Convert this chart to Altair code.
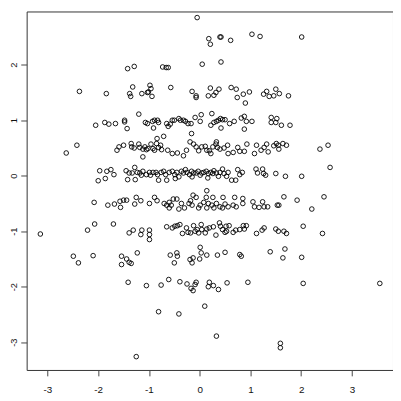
import altair as alt
import pandas as pd

# values, grouped by horizontal band
top_x = [-0.05, 0.18, 0.21, 0.40, 0.42, 0.61, 1.03, 1.19, -0.73, -0.66, -0.62, 0.05, 0.42, 2.01, -1.42, -1.29]
top_y = [2.85, 2.47, 2.37, 2.50, 2.50, 2.44, 2.55, 2.51, 1.96, 1.95, 1.95, 2.01, 2.05, 2.50, 1.93, 1.97]

b15_x = [-2.37, -1.84, -1.38, -1.36, -1.32, -0.98, -0.96, -1.03, -1.01, -1.14, -0.94, -0.57, -0.15, -0.07,
         -0.07, 0.17, 0.21, 0.28, 0.32, 0.38, 0.62, 0.72, 0.74, 0.86, 0.98, 1.26, 1.32, 1.37, 1.46, 1.50,
         1.57, 1.75, 0.90]
b15_y = [1.52, 1.48, 1.48, 1.43, 1.60, 1.63, 1.57, 1.50, 1.51, 1.48, 1.43, 1.59, 1.52, 1.44,
         1.41, 1.44, 1.58, 1.45, 1.50, 1.56, 1.59, 1.56, 1.41, 1.47, 1.51, 1.47, 1.52, 1.43, 1.44, 1.56,
         1.48, 1.44, 1.31]

b10_x = [1.41, 1.52, 1.41, 1.50, 1.61, 1.78, -2.05, -1.87, -1.79, -1.66, -1.48, -1.48, -1.43, -1.20,
         -1.07, -1.03, -0.93, -0.89, -0.83, -0.81, -0.91, -0.65, -0.62, -0.58, -0.54, -0.50, -0.41, -0.38,
         -0.32, -0.28, -0.23, -0.17, -0.09, 0.03, 0.01, 0.24, 0.22, 0.28, 0.33, 0.37, 0.41, 0.45, 0.42,
         0.50, 0.59, 0.68, 0.82, 0.88, 0.92, 0.88, 1.03]
b10_y = [1.05, 1.03, 0.96, 0.96, 0.91, 0.91, 0.91, 0.96, 0.93, 0.94, 1.00, 0.97, 0.85, 1.11,
         0.96, 0.94, 0.98, 1.00, 1.00, 0.96, 0.86, 0.94, 0.89, 0.93, 1.00, 1.00, 1.03, 1.00,
         1.00, 0.98, 0.94, 0.94, 1.05, 1.10, 0.98, 1.12, 0.91, 0.96, 0.98, 1.00, 1.03, 1.01, 0.86,
         1.01, 0.94, 0.98, 1.04, 1.07, 0.98, 0.84, 0.98]

b05_x = [-2.63, -2.42, -1.63, -1.59, -1.50, -1.35, -1.34, -1.29, -0.16, -0.84, -0.71, -1.20, -1.18,
         -1.12, -1.08, -1.05, -1.02, -0.96, -0.92, -0.89, -0.85, -0.81, -0.77, -0.75, -1.12, -0.63, -0.54,
         -0.44, -0.32, -0.26, -0.19, -0.12, -0.07, -0.02, 0.04, 0.11, 0.14, 0.19, 0.22, 0.26, 0.32, 0.35,
         0.40, 0.48, 0.55, 0.56, 0.66, 0.75, 0.79, 0.88, 0.93, 1.08, 1.12, 1.21, 1.27, 0.33, 1.32, 1.35,
         1.46, 1.51, 1.55, 1.56, 1.64, 1.71, 2.37, 2.53, 2.57]
b05_y = [0.41, 0.55, 0.46, 0.52, 0.55, 0.58, 0.52, 0.50, 0.76, 0.67, 0.71, 0.57, 0.51,
         0.48, 0.52, 0.47, 0.49, 0.57, 0.49, 0.46, 0.58, 0.51, 0.55, 0.47, 0.34, 0.46, 0.40,
         0.41, 0.36, 0.46, 0.61, 0.57, 0.52, 0.45, 0.52, 0.53, 0.46, 0.45, 0.40, 0.52, 0.57, 0.51,
         0.48, 0.50, 0.55, 0.40, 0.42, 0.51, 0.44, 0.44, 0.57, 0.40, 0.55, 0.46, 0.51, 0.61, 0.57, 0.43,
         0.54, 0.58, 0.55, 0.48, 0.58, 0.55, 0.48, 0.55, 0.15]

b00_x = [-1.97, -1.83, -1.75, -1.69, -2.00, -1.86, -1.45, -1.39, -1.42, -1.33, -1.28, -1.27, -1.23,
         -1.18, -1.15, -1.12, -1.05, -0.99, -0.97, -0.92, -0.86, -0.83, -0.81, -0.76, -0.71, -0.67, -0.65,
         -0.60, -0.54, -0.49, -0.48, -0.45, -0.41, -0.36, -0.32, -0.28, -0.25, -0.20, -0.16, -0.15, -0.12,
         -0.07, -0.03, 0.01, 0.04, 0.08, 0.13, 0.16, 0.17, 0.22, 0.26, 0.28, 0.33, 0.37, 0.40, 0.45, 0.48,
         0.53, 0.56, 0.63, 0.71, 0.75, 0.79, 0.84, 1.11, 1.14, 1.24, 1.26, 1.30, 1.50, 1.69, 2.01]
b00_y = [0.09, 0.08, 0.11, 0.02, -0.09, -0.05, 0.09, 0.05, -0.07, 0.05, 0.15, -0.07, 0.06,
         0.05, 0.01, 0.08, 0.02, 0.06, 0.01, 0.06, 0.06, 0.02, -0.08, 0.06, 0.08, 0.02, -0.08,
         0.06, 0.08, 0.02, -0.05, 0.06, -0.02, 0.08, 0.05, 0.11, 0.06, 0.02, 0.08, -0.02, 0.05,
         0.05, 0.08, 0.01, 0.05, 0.06, 0.08, -0.04, 0.04, 0.06, 0.04, 0.09, 0.05, -0.01, 0.06, 0.12, 0.04,
         -0.01, 0.06, -0.08, -0.08, 0.11, 0.02, 0.06, 0.12, 0.05, 0.12, 0.04, 0.01, 0.04, -0.01, -0.01]

bm05_x = [-1.25, -2.08, -1.81, -1.68, -1.57, -1.56, -1.50, -1.44, -1.28, -0.89, -0.52, -0.45, -0.13,
          -0.07, 0.14, 0.13, 0.26, 0.46, 0.69, 0.85, -1.16, -0.99, -0.84, -0.70, -0.65, -0.60, -0.60,
          -0.56, -0.41, -0.36, -0.30, -0.21, -0.18, -0.15, -0.02, 0.01, 0.08, 0.14, 0.17, 0.24, 0.28,
          0.33, 0.40, 0.45, 0.50, 0.56, 0.66, 0.72, 0.85, 1.05, 1.08, 1.17, 1.24, 1.27, 1.66, 2.45,
          1.34, 1.53, 1.56, 1.92, 2.21]
bm05_y = [-0.39, -0.48, -0.53, -0.51, -0.46, -0.57, -0.44, -0.44, -0.51, -0.39, -0.42, -0.42, -0.35,
          -0.39, -0.27, -0.39, -0.39, -0.39, -0.39, -0.41, -0.45, -0.50, -0.45, -0.50, -0.53, -0.48, -0.58,
          -0.53, -0.60, -0.50, -0.58, -0.50, -0.45, -0.53, -0.58, -0.53, -0.48, -0.58, -0.50, -0.53, -0.58,
          -0.50, -0.56, -0.58, -0.51, -0.56, -0.53, -0.56, -0.50, -0.47, -0.56, -0.57, -0.47, -0.56, -0.38, -0.38,
          -0.56, -0.53, -0.53, -0.44, -0.60]

bm10_x = [-3.14, -2.21, -2.07, -1.70, -1.39, -1.31, -1.14, -1.16, -0.99, -0.99, -0.99, -0.65, -0.54,
          -0.49, -0.44, -0.39, -0.34, -0.26, -0.23, -0.18, -0.12, -0.09, -0.05, -0.02, 0.03, 0.04, 0.11,
          0.14, 0.19, 0.27, 0.32, 0.39, 0.41, 0.45, 0.50, 0.53, 0.52, 0.58, 0.66, 0.71, 0.79, 0.86, 0.92,
          0.88, 1.12, 1.23, 1.27, 1.50, 1.55, 1.66, 1.71, 2.04, 2.42]
bm10_y = [-1.05, -0.98, -0.87, -0.87, -1.03, -0.98, -0.98, -1.06, -0.98, -1.06, -1.15, -0.92, -0.94,
          -0.91, -0.90, -0.88, -1.04, -0.94, -1.02, -1.03, -0.90, -1.00, -0.97, -1.03, -0.88, -0.97, -1.03,
          -0.96, -0.94, -0.92, -1.07, -0.85, -0.91, -0.97, -1.02, -1.00, -0.91, -0.90, -1.02, -0.98, -0.97, -0.90, -0.90,
          -0.96, -1.04, -0.98, -0.94, -0.96, -1.00, -1.00, -1.04, -0.91, -1.04]

bm15_x = [-2.49, -2.39, -2.10, -1.54, -1.54, -1.44, -1.39, -1.35, -1.23, -0.58, -0.45, -0.44, -0.50,
          -0.19, -0.15, -0.13, 0.01, 0.03, 0.00, 0.14, 0.35, 0.50, 0.79, 0.82, 1.39, 1.68, 1.64, 2.01]
bm15_y = [-1.45, -1.57, -1.44, -1.45, -1.60, -1.50, -1.56, -1.58, -1.39, -1.43, -1.39, -1.45, -1.57,
          -1.51, -1.57, -1.48, -1.29, -1.39, -1.50, -1.43, -1.43, -1.38, -1.42, -1.45, -1.37, -1.32, -1.48, -1.47]

low_x = [-1.41, -1.05, -0.76, -0.61, -0.39, -0.25, -0.17, -0.13, -0.09, -0.07, 0.17, 0.19, 0.27, 0.37,
         0.54, 0.95, 2.04, 3.55, -0.81, -0.41, 0.10, 0.33, -1.25, 1.59, 1.59]
low_y = [-1.92, -1.98, -1.97, -1.87, -1.91, -1.95, -2.03, -2.07, -1.96, -1.92, -2.00, -1.92, -1.98, -2.05,
         -1.93, -1.92, -1.94, -1.94, -2.45, -2.49, -2.35, -2.89, -3.26, -3.02, -3.10]

xs = top_x + b15_x + b10_x + b05_x + b00_x + bm05_x + bm10_x + bm15_x + low_x
ys = top_y + b15_y + b10_y + b05_y + b00_y + bm05_y + bm10_y + bm15_y + low_y
df = pd.DataFrame({"x": xs, "y": ys})

ticks = [-3, -2, -1, 0, 1, 2, 3]
font = "Liberation Sans"

chart = alt.Chart(df).mark_point(
    shape="circle", filled=False, color="black", strokeWidth=0.9, size=22, opacity=1
).encode(
    x=alt.X("x:Q", scale=alt.Scale(domain=[-3.41, 3.81], nice=False, zero=False),
            axis=alt.Axis(values=ticks, title=None, grid=False, domain=False, tickSize=6,
                          tickColor="#444", labelColor="#111", labelFont=font, labelFontSize=10,
                          labelPadding=9, labelExpr="'' + datum.value", labelFlush=False)),
    y=alt.Y("y:Q", scale=alt.Scale(domain=[-3.50, 2.96], nice=False, zero=False),
            axis=alt.Axis(values=ticks, title=None, grid=False, domain=False, tickSize=6,
                          tickColor="#444", labelColor="#111", labelFont=font, labelFontSize=9.5,
                          labelAngle=270, labelAlign="center", labelBaseline="bottom",
                          labelPadding=2, labelExpr="'' + datum.value", labelFlush=False)),
).properties(
    width=373, height=365,
    padding={"left": 19, "top": 0, "right": 0, "bottom": 25},
    autosize=alt.AutoSizeParams(type="none"),
).configure_view(stroke="#333", strokeWidth=1)

chart.save("out.html", embed_options={"renderer": "svg", "actions": False})
